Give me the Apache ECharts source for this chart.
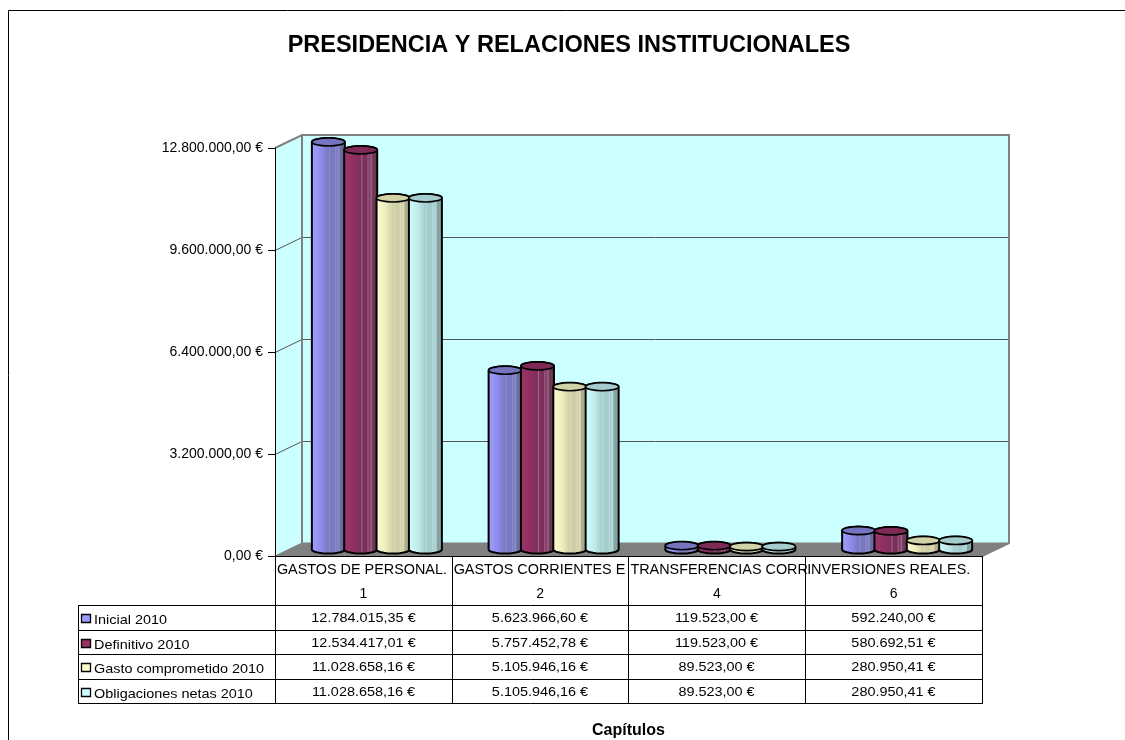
<!DOCTYPE html>
<html><head><meta charset="utf-8">
<style>html,body{margin:0;padding:0;background:#fff}#c{width:1125px;height:740px}</style>
<script src="https://cdn.jsdelivr.net/npm/echarts@6/dist/echarts.min.js"></script>
</head><body><div id="c"></div>
<script>
const titleText = 'PRESIDENCIA Y RELACIONES INSTITUCIONALES';
const axisTitle = 'Capítulos';
const categories = ['GASTOS DE PERSONAL.', 'GASTOS CORRIENTES E', 'TRANSFERENCIAS CORR', 'INVERSIONES REALES.'];
const chapterCodes = ['1', '2', '4', '6'];
const seriesNames = ['Inicial 2010', 'Definitivo 2010', 'Gasto comprometido 2010', 'Obligaciones netas 2010'];
const inicial = [12784015.35, 5623966.60, 119523.00, 592240.00];
const definitivo = [12534417.01, 5757452.78, 119523.00, 580692.51];
const comprometido = [11028658.16, 5105946.16, 89523.00, 280950.41];
const obligaciones = [11028658.16, 5105946.16, 89523.00, 280950.41];
const yTicks = [0, 3200000, 6400000, 9600000, 12800000];

const fills = ['#9999FF', '#993366', '#FFFFCC', '#CCFFFF'];
const shades = [
  ['#a0a0ff', '#8c8ce8', '#7878c4', '#666699', '#8f8fc4', '#6c6ca6'],
  ['#a0356a', '#8f2f60', '#7c3059', '#66344f', '#a0668a', '#6e3a58'],
  ['#ffffd0', '#ecebbd', '#cfceA6', '#b0af8c', '#dcdcb8', '#adac8a'],
  ['#d0ffff', '#bfeaea', '#a4cccc', '#86a6a6', '#b8dcdc', '#84a2a2']
];
const topFills = ['#7474bf', '#7d2a54', '#d2d2a6', '#a5cccc'];
const allSeries = [inicial, definitivo, comprometido, obligaciones];

const DX = 27, DY = -13, GL = 275, GR = 982, GT = 148, GB = 556;
const RX = 16.5, RY = 4;
const ROWS = [605, 630, 654, 679, 703];
const COLX = [275, 452, 628, 805, 982];
const TL = 78;

function euro(v) {
  const p = v.toFixed(2).split('.');
  return p[0].replace(/\B(?=(\d{3})+(?!\d))/g, '.') + ',' + p[1] + ' €';
}
function arc(cx, cy, from, to) {
  const pts = [];
  for (let i = 0; i <= 16; i++) {
    const a = from + (to - from) * i / 16;
    pts.push([cx + RX * Math.cos(a), cy + RY * Math.sin(a)]);
  }
  return pts;
}
function bodyFill(c) {
  const s = shades[c];
  return new echarts.graphic.LinearGradient(0, 0, 1, 0, [
    {offset: 0, color: s[0]}, {offset: .3, color: s[1]}, {offset: .5, color: s[2]},
    {offset: .53, color: s[4]}, {offset: .56, color: s[2]}, {offset: .68, color: s[2]},
    {offset: .71, color: s[4]}, {offset: .74, color: s[2]}, {offset: .8, color: s[4]},
    {offset: .84, color: s[5]}, {offset: 1, color: s[3]}
  ]);
}
function cylinder(idx) {
  return function (params, api) {
    const pTop = api.coord([api.value(0), api.value(1)]);
    const pBase = api.coord([api.value(0), 0]);
    const band = api.size([1, 0])[0];
    const step = band * 0.183;
    const cx = pTop[0] + DX / 2 + (idx - 1.5) * step;
    const yt = pTop[1] + DY / 2;
    const yb = pBase[1] + DY / 2;
    const body = arc(cx, yb, 0, Math.PI).concat(arc(cx, yt, Math.PI, 2 * Math.PI));
    return {type: 'group', silent: true, children: [
      {type: 'polygon', shape: {points: body}, style: {fill: bodyFill(idx), stroke: '#000', lineWidth: 2}},
      {type: 'ellipse', shape: {cx: cx, cy: yt, rx: RX, ry: RY}, style: {fill: topFills[idx], stroke: '#000', lineWidth: 1.6}}
    ]};
  };
}
function walls(params, api) {
  const a = api.coord([0, 12800000]);
  const left = GL, right = GR, top = a[1], base = api.coord([0, 0])[1];
  const kids = [
    {type: 'polygon', shape: {points: [[left, top], [left + DX, top + DY], [left + DX, base + DY], [left, base]]}, style: {fill: '#CCFFFF'}},
    {type: 'rect', shape: {x: left + DX, y: top + DY, width: right - left, height: base - top}, style: {fill: '#CCFFFF'}},
    {type: 'polygon', shape: {points: [[left, base], [left + DX, base + DY], [right + DX, base + DY], [right, base]]}, style: {fill: '#808080', stroke: '#808080'}}
  ];
  yTicks.slice(1, -1).forEach(function (t) {
    const y = Math.round(api.coord([0, t])[1]) + 0.5;
    kids.push({type: 'polyline', shape: {points: [[left, y], [left + DX, y + DY], [right + DX, y + DY]]}, style: {fill: 'none', stroke: '#555', lineWidth: 1}});
  });
  kids.push({type: 'polyline', shape: {points: [[left, top], [left + DX, top + DY], [left + DX, base + DY]]}, style: {fill: 'none', stroke: '#808080', lineWidth: 2}});
  kids.push({type: 'polyline', shape: {points: [[left + DX, top + DY], [right + DX, top + DY], [right + DX, base + DY], [right, base]]}, style: {fill: 'none', stroke: '#808080', lineWidth: 2}});
  return {type: 'group', silent: true, children: kids};
}

const seriesList = [{
  type: 'custom', name: 'walls', z: 1, clip: false, silent: true,
  renderItem: walls, data: [[0, 0]], encode: {x: 0, y: 1}
}];
allSeries.forEach(function (vals, i) {
  seriesList.push({
    type: 'custom', name: seriesNames[i], z: 2 + i, clip: false, silent: true,
    renderItem: cylinder(i),
    data: vals.map(function (v, k) { return [k, v]; }),
    encode: {x: 0, y: 1}
  });
});

const font = '"Liberation Sans", Arial, sans-serif';
const line = (x1, y1, x2, y2) => ({type: 'line', z: 20, silent: true, shape: {x1, y1, x2, y2}, style: {stroke: '#000', lineWidth: 1}});
const gfx = [
  line(8.5, 10.5, 1125, 10.5), line(8.5, 10.5, 8.5, 740)
];
COLX.forEach(x => gfx.push(line(x + .5, GB, x + .5, ROWS[4])));
ROWS.forEach(y => gfx.push(line(TL, y + .5, GR + 1, y + .5)));
gfx.push(line(GL, GB + .5, GR + 1, GB + .5));
gfx.push(line(TL + .5, ROWS[0], TL + .5, ROWS[4]));
seriesNames.forEach(function (name, i) {
  const y = ROWS[i];
  gfx.push({type: 'rect', z: 20, silent: true, shape: {x: 81.5, y: y + 9.5, width: 9, height: 8}, style: {fill: fills[i], stroke: '#000', lineWidth: 1.3}});
  gfx.push({type: 'text', z: 21, silent: true, x: 94, y: y + 15, scaleX: 1.11, style: {text: name, font: '13px ' + font, fill: '#000', verticalAlign: 'middle'}});
  allSeries[i].forEach(function (v, k) {
    gfx.push({type: 'text', z: 21, silent: true, x: (COLX[k] + COLX[k + 1]) / 2, y: y + 13, scaleX: 1.11, style: {text: euro(v), font: '13px ' + font, fill: '#000', align: 'center', verticalAlign: 'middle'}});
  });
});

const chart = echarts.init(document.getElementById('c'), null, {renderer: 'canvas'});
chart.setOption({
  animation: false,
  backgroundColor: '#fff',
  title: {text: titleText, left: 564, top: 29, textAlign: 'center', textStyle: {fontFamily: font, fontSize: 23.5, fontWeight: 'bold', color: '#000'}},
  legend: {show: false},
  tooltip: {show: false},
  grid: {left: GL, right: 1125 - GR, top: GT, bottom: 740 - GB, containLabel: false, outerBoundsMode: 'none'},
  xAxis: {
    type: 'category', data: categories, boundaryGap: true,
    name: axisTitle, nameLocation: 'middle', nameGap: 175,
    nameTextStyle: {fontFamily: font, fontSize: 16, fontWeight: 'bold', color: '#000', verticalAlign: 'middle'},
    axisLine: {show: false}, axisTick: {show: false},
    axisLabel: {
      show: true, margin: 2, interval: 0, hideOverlap: false, fontFamily: font, fontSize: 14.4, color: '#000',
      formatter: function (v, i) { return '{a|' + v + '}\n{b|' + chapterCodes[i] + '}'; },
      rich: {
        a: {width: 173, align: 'left', fontFamily: font, fontSize: 14.4, color: '#000', lineHeight: 24},
        b: {width: 173, align: 'center', fontFamily: font, fontSize: 14, color: '#000', lineHeight: 24}
      }
    },
    splitLine: {show: false}
  },
  yAxis: {
    type: 'value', min: 0, max: 12800000, interval: 3200000, z: 5,
    axisLine: {show: true, lineStyle: {color: '#000', width: 1}},
    axisTick: {show: true, length: 7, lineStyle: {color: '#000'}},
    axisLabel: {margin: 12, fontFamily: font, fontSize: 14, color: '#000', formatter: euro},
    splitLine: {show: false}
  },
  graphic: gfx,
  series: seriesList
});
</script></body></html>
